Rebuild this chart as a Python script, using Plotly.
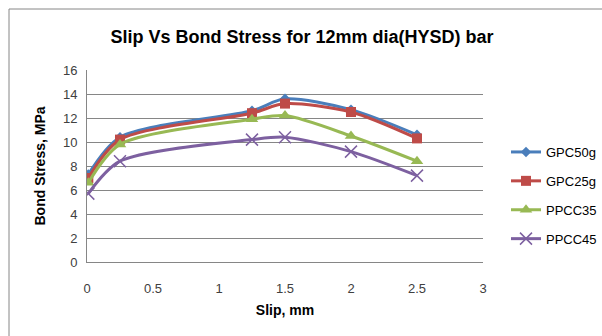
import plotly.graph_objects as go

# Slip (mm) and bond stress (MPa) for each mix
slip = [0.01, 0.25, 1.25, 1.5, 2.0, 2.5]
gpc50g = [7.3, 10.4, 12.6, 13.6, 12.7, 10.6]
gpc25g = [7.0, 10.2, 12.4, 13.2, 12.5, 10.3]
ppcc35 = [6.6, 9.8, 11.9, 12.2, 10.5, 8.4]
ppcc45 = [5.7, 8.4, 10.2, 10.4, 9.2, 7.2]

x_ticks = [0, 0.5, 1, 1.5, 2, 2.5, 3]
y_ticks = [0, 2, 4, 6, 8, 10, 12, 14, 16]

series = [
    ("GPC50g", gpc50g, "#4A7EBB", dict(symbol="diamond", size=8)),
    ("GPC25g", gpc25g, "#BE4B48", dict(symbol="square", size=10)),
    ("PPCC35", ppcc35, "#98B954", dict(symbol="triangle-up", size=11)),
    ("PPCC45", ppcc45, "#7D60A0", dict(symbol="x-thin-open", size=12,
                                        line=dict(width=1.5, color="#7D60A0"))),
]

FONT = "Liberation Sans"

fig = go.Figure()
for i, (name, ys, color, marker) in enumerate(series):
    fig.add_trace(go.Scatter(
        x=slip, y=ys, name=name, mode="lines+markers",
        line=dict(color=color, width=3, shape="spline", smoothing=0.8),
        marker=dict(color=color, **marker),
        legendgroup=f"g{i}",
    ))

L, R, T, B = 87, 119, 70, 74
W, H = 602, 336
pw, ph = W - L - R, H - T - B

def px(xp):
    return (xp - L) / pw

def py(yp):
    return (H - B - yp) / ph

fig.update_layout(
    width=W, height=H,
    margin=dict(l=L, r=R, t=T, b=B, autoexpand=False),
    paper_bgcolor="white", plot_bgcolor="white",
    font=dict(family=FONT, size=13, color="#404040"),
    title=dict(text="<b>Slip Vs Bond Stress for 12mm dia(HYSD) bar</b>",
               x=302 / W, xanchor="center", y=1 - 37 / H, yanchor="middle",
               font=dict(family=FONT, size=18, color="#000000")),
    xaxis=dict(range=[0, 3], tickvals=x_ticks, ticktext=[str(v) for v in x_ticks],
               showgrid=False, zeroline=False, showline=True, linecolor="#868686",
               linewidth=1, ticks="", ticklabelstandoff=14,
               title=dict(text="<b>Slip, mm</b>", standoff=10,
                          font=dict(family=FONT, size=14, color="#000000"))),
    yaxis=dict(range=[0, 16], tickvals=y_ticks, showgrid=True, gridcolor="#868686",
               gridwidth=1, zeroline=False, showline=True, linecolor="#868686",
               linewidth=1, ticks="", ticklabelstandoff=6,
               title=dict(text="<b>Bond Stress, MPa</b>", standoff=14,
                          font=dict(family=FONT, size=14, color="#000000"))),
    legend=dict(xref="container", yref="container",
                x=506 / W, xanchor="left", y=1 - 137 / H, yanchor="top",
                font=dict(family=FONT, size=13, color="#000000"),
                tracegroupgap=9, traceorder="grouped", itemwidth=30,
                bgcolor="rgba(0,0,0,0)"),
    shapes=[dict(type="rect", xref="paper", yref="paper",
                 x0=px(9), x1=px(W + 5), y0=py(H + 5), y1=py(9),
                 line=dict(color="#868686", width=1), layer="below")],
)

fig.write_html("out.html")
